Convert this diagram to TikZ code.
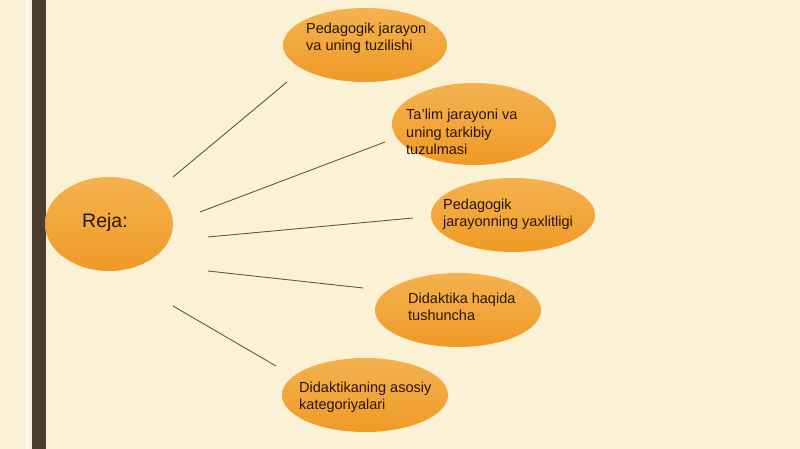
\documentclass[tikz,border=0pt]{standalone}
\usepackage{fontspec}
\setmainfont{Liberation Sans}
\usetikzlibrary{%
  shapes.geometric,
}

\definecolor{paper}{RGB}{251,242,214}
\definecolor{rail}{RGB}{76,60,45}
\definecolor{ink}{RGB}{38,22,10}
\definecolor{wire}{RGB}{95,88,78}

\begin{document}
\begin{tikzpicture}[
    x=1pt, y=-1pt,
    every text node part/.style={align=left},
    topic/.style={
      % The shape:
      ellipse,
      % The size:
      minimum width=164pt,
      minimum height=74pt,
      % No border, only a shading:
      top color={rgb,255:red,244;green,178;blue,80}, % lighter at the top...
      bottom color={rgb,255:red,240;green,154;blue,38}, % and deeper orange below
    },
    topictext/.style={
      anchor=north west,
      inner sep=0pt,
      text=ink,
      font=\fontsize{14.5}{17.5}\selectfont,
    },
    spoke/.style={color=wire, line width=0.9pt},
  ]

    % page and the rail on the left
    \fill[paper] (0,0) rectangle (800,449);
    \useasboundingbox (0,0) rectangle (800,449);
    \fill[white!60!paper] (26,0) rectangle (29,449);
    \fill[rail] (32,0) rectangle (46,449);

    \node[topic, minimum width=128pt, minimum height=94pt] (reja) at (109,224) {};
    \node[topictext, font=\fontsize{19.5}{23}\selectfont] (rejatext) at (82,213) {Reja:};

    \node[topic] (pedagogik) at (365,45) {};
    \node[topictext] (pedagogiktext) at (306,22.5) {Pedagogik jarayon\\va uning tuzilishi};
    \node[topic, minimum height=82pt] (talim) at (474,124) {};
    \node[topictext] (talimtext) at (406,109) {Ta'lim jarayoni va\\uning tarkibiy\\tuzulmasi};
    \node[topic] (yaxlitlik) at (513,215) {};
    \node[topictext] (yaxlitliktext) at (443,198.5) {Pedagogik\\jarayonning yaxlitligi};
    \node[topic, minimum width=166pt] (didaktika) at (458,310) {};
    \node[topictext] (didaktikatext) at (408,292.5) {Didaktika haqida\\tushuncha};
    \node[topic, minimum width=166pt] (kategoriya) at (365,395) {};
    \node[topictext] (kategoriyatext) at (299,381.5) {Didaktikaning asosiy\\kategoriyalari};

    % the spokes stop short of the ellipses
    \coordinate (r1) at (173,177); \coordinate (p1) at (287,82);
    \coordinate (r2) at (200,212); \coordinate (p2) at (385,142);
    \coordinate (r3) at (208,237); \coordinate (p3) at (413,218);
    \coordinate (r4) at (208,271); \coordinate (p4) at (363,288);
    \coordinate (r5) at (173,306); \coordinate (p5) at (276,366);
    \foreach \i in {1,...,5}
      \draw[spoke] (r\i) -- (p\i);
  \end{tikzpicture}
\end{document}
